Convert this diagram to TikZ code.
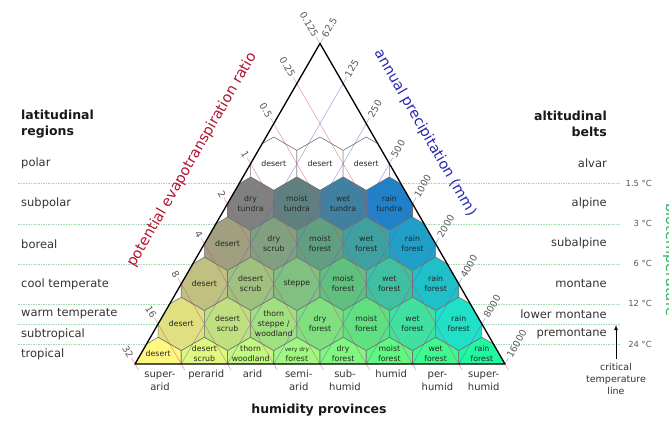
\documentclass[tikz,border=0pt]{standalone}
\usepackage{fontspec}
\setmainfont{DejaVu Sans}
\usetikzlibrary{calc}

\definecolor{petred}{HTML}{B41430}
\definecolor{precblue}{HTML}{2828B4}
\definecolor{tempgreen}{HTML}{2DB45A}
\definecolor{gridgreen}{HTML}{9ED8AE}
\definecolor{labelgray}{HTML}{333333}

% rows of hexagons, dry to wet
\newcommand{\zonerows}{%
  1/{desert,desert,desert},%
  2/{dry\\tundra,moist\\tundra,wet\\tundra,rain\\tundra},%
  3/{desert,dry\\scrub,moist\\forest,wet\\forest,rain\\forest},%
  4/{desert,desert\\scrub,steppe,moist\\forest,wet\\forest,rain\\forest},%
  5/{desert,desert\\scrub,thorn\\steppe /\\woodland,dry\\forest,moist\\forest,wet\\forest,rain\\forest},%
  6/{desert,desert\\scrub,thorn\\woodland,{\fontsize{5.8}{7}\selectfont very dry}\\forest,dry\\forest,moist\\forest,wet\\forest,rain\\forest}}

\tikzset{
  hexcell/.style={draw=black!55, line width=0.6pt},
  zonelabel/.style={align=center, inner sep=0pt, font=\fontsize{7.8}{10}\selectfont, text=black!85},
  petline/.style={draw=petred!75, line width=0.5pt, draw opacity=0.6},
  precline/.style={draw=precblue!75, line width=0.5pt, draw opacity=0.6},
  petlabel/.style={rotate=-60, anchor=east, inner sep=1pt, font=\fontsize{9.5}{10}\selectfont, text=black!65},
  preclabel/.style={rotate=60, anchor=west, inner sep=1pt, font=\fontsize{9.5}{10}\selectfont, text=black!65},
  templine/.style={draw=gridgreen, line width=0.6pt, dash pattern=on 1.5pt off 1pt},
  templabel/.style={anchor=east, inner sep=0pt, font=\fontsize{8.4}{10}\selectfont, text=black!65},
  region/.style={inner sep=0pt, font=\fontsize{11.5}{14}\selectfont, text=labelgray},
  heading/.style={inner sep=0pt, font=\fontsize{12.5}{16}\selectfont\bfseries, text=black!90},
  humidity/.style={anchor=base, inner sep=0pt, font=\fontsize{10}{12}\selectfont, text=labelgray},
  axistitle/.style={inner sep=0pt, font=\fontsize{14.5}{16}\selectfont}
}

\begin{document}
\begin{tikzpicture}[x=1pt,y=-1pt]
  \useasboundingbox (0,0) rectangle (669,422);
  \coordinate (A) at (320,43.5);
  \coordinate (L) at (135,364);
  \coordinate (R) at (505,364);

  % biotemperature levels
  \foreach \y in {183.7,223.8,263.9,303.9,323.9,344}
    \draw[templine] (18,\y) -- (620,\y);

  % hexagons
  \begin{scope}
    \clip (A) -- (L) -- (R) -- cycle;
    \foreach \zr/\names in \zonerows {
      \foreach \zone [count=\zc from 0] in \names {
        \pgfmathsetmacro{\cx}{320+(\zc-(\zr+1)/2)*46.25}
        \pgfmathsetmacro{\cy}{364-(6-\zr)*40.06}
        \pgfmathtruncatemacro{\hexr}{min(255,32*(\zr+2-\zc))}
        \pgfmathtruncatemacro{\hexg}{min(248,32*(\zr+2))}
        \pgfmathtruncatemacro{\hexb}{\zc==\zr+1 ? (\zr==6 ? 160 : 200) : (\zc==\zr ? (\zr==6 ? 144 : 160) : 128)}
        \ifnum\zr=1 \definecolor{hexcol}{RGB}{255,255,255}\else\definecolor{hexcol}{RGB}{\hexr,\hexg,\hexb}\fi
        \draw[hexcell, fill=hexcol] (\cx,\cy) +(90:26.7) -- +(30:26.7) -- +(-30:26.7) -- +(-90:26.7) -- +(-150:26.7) -- +(150:26.7) -- cycle;
      }
    }
  \end{scope}

  % potential evapotranspiration ratio
  \foreach \val [count=\lev from 0] in {0.125,0.25,0.5,1,2,4,8,16,32} {
    \coordinate (p\lev) at ({320-185*\lev/8},{43.5+320.5*\lev/8});
    \coordinate (pb\lev) at ({505-370*\lev/8},364);
    \draw[petline] ($(p\lev)+(-3.5,-6.06)$) -- ($(pb\lev)+(3.5,6.06)$);
    \node[petlabel] (petv\lev) at ($(p\lev)+(-3.5,-6.06)$) {\val};
  }
  % annual precipitation
  \foreach \val [count=\lev from 0] in {62.5,125,250,500,1000,2000,4000,8000,16000} {
    \coordinate (q\lev) at ({320+185*\lev/8},{43.5+320.5*\lev/8});
    \coordinate (qb\lev) at ({135+370*\lev/8},364);
    \draw[precline] ($(q\lev)+(3.5,-6.06)$) -- (qb\lev);
    \node[preclabel] (precv\lev) at ($(q\lev)+(3.5,-6.06)$) {\val};
  }

  % zone names
  \foreach \zr/\names in \zonerows {
    \foreach \zone [count=\zc from 0] in \names {
      \pgfmathsetmacro{\cx}{320+(\zc-(\zr+1)/2)*46.25}
      \pgfmathsetmacro{\cy}{\zr==6 ? 354 : 364-(6-\zr)*40.06}
      \node[zonelabel] (z\zr\zc) at (\cx,\cy) {\zone};
    }
  }

  \draw[line width=1.3pt, line join=round] (A) -- (L) -- (R) -- cycle;

  \node[axistitle, petred, rotate=60] (pettitle) at (192,160) {potential evapotranspiration ratio};
  \node[axistitle, precblue, rotate=-60] (prectitle) at (425,133) {annual precipitation (mm)};
  \node[axistitle, tempgreen, rotate=-90, anchor=base] (temptitle) at (666,260) {biotemperature};

  % latitudinal regions
  \node[heading, align=left, anchor=west] (lathead) at (21,124) {latitudinal\\regions};
  \foreach \y/\name [count=\idx] in {163.7/polar,203.8/subpolar,243.8/boreal,283.9/cool temperate,314/warm temperate,334/subtropical,354/tropical}
    \node[region, anchor=west] (lat\idx) at (21,\y) {\name};

  % altitudinal belts
  \node[heading, align=right, anchor=east] (althead) at (607,124) {altitudinal\\belts};
  \foreach \y/\name [count=\idx] in {163.7/alvar,203.8/alpine,243.8/subalpine,283.9/montane,314/lower montane,334/premontane}
    \node[region, anchor=east] (alt\idx) at (607,\y) {\name};

  \foreach \y/\name [count=\idx] in {183.7/1.5,223.8/3,263.9/6,303.9/12,344/24}
    \node[templabel] (deg\idx) at (652,\y) {\name\ °C};

  \node[align=center, inner sep=0pt, font=\fontsize{9.5}{12}\selectfont, text=labelgray] (crit) at (616,379) {critical\\temperature\\line};
  \coordinate (critline) at (616,325);
  \draw[-latex, line width=0.8pt] ([yshift=4pt]crit.north) -- (critline);

  % humidity provinces
  \foreach \hfirst/\hsecond [count=\idx from 0] in {super-/arid,perarid/,arid/,semi-/arid,sub-/humid,humid/,per-/humid,super-/humid} {
    \node[humidity] (hum\idx) at ({160+46.25*\idx},377) {\hfirst};
    \node[humidity] (humb\idx) at ({160+46.25*\idx},390) {\hsecond};
  }
  \node[heading] (humhead) at (319,410) {humidity provinces};
\end{tikzpicture}
\end{document}
